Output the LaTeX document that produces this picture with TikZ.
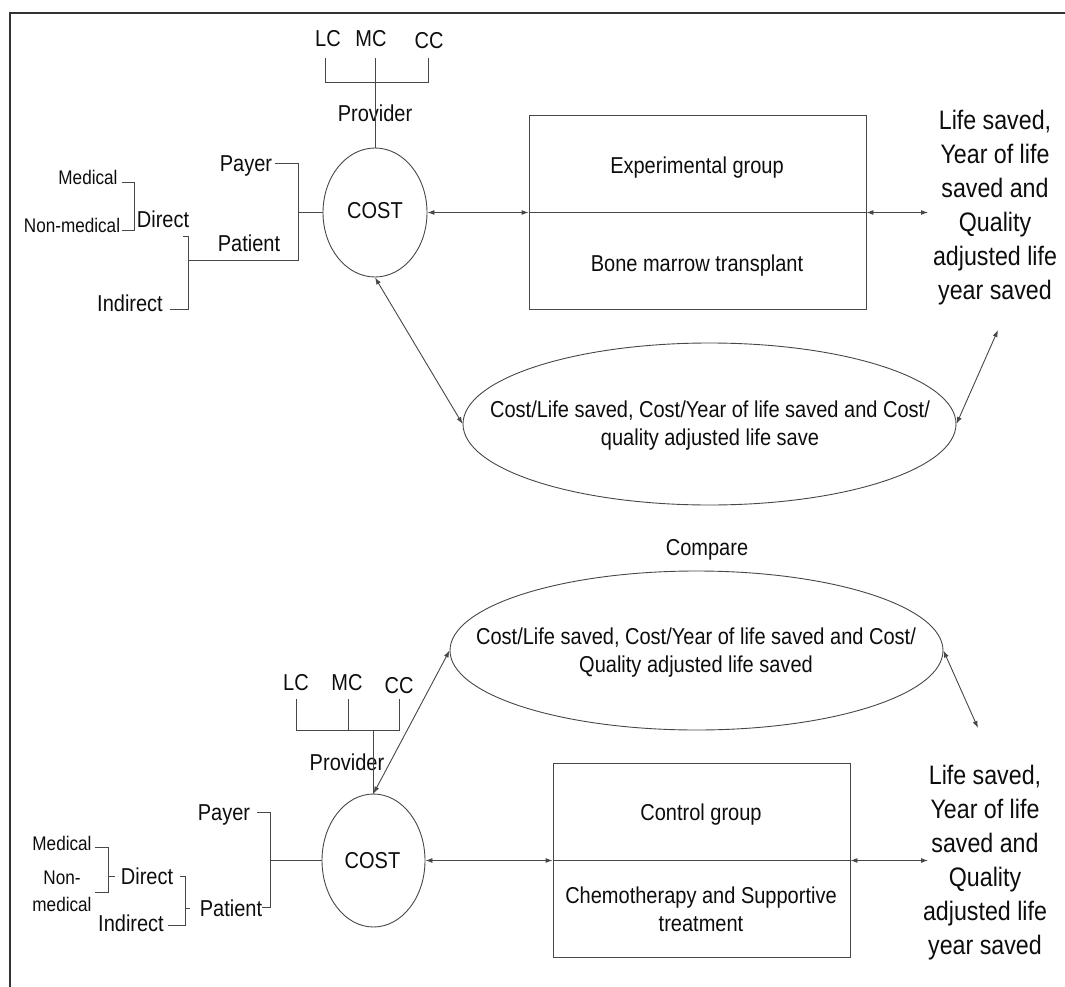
\documentclass[tikz,border=0pt]{standalone}
\usepackage{fontspec}
\setmainfont{Liberation Sans}[FakeStretch=0.87]
\usetikzlibrary{shapes.geometric,arrows.meta}
\begin{document}
\begin{tikzpicture}[x=1pt,y=-1pt,
  ln/.style={draw=black!72, line width=0.9pt},
  arr/.style={ln, {Latex[length=7pt,width=5pt]}-{Latex[length=7pt,width=5pt]}},
  lbl/.style={inner sep=0pt, text=black!95, font=\fontsize{23}{28}\selectfont, text height=16.5pt, text depth=0pt},
  sml/.style={inner sep=0pt, text=black!95, font=\fontsize{19.7}{27}\selectfont, text height=14.1pt, text depth=0pt},
  smlm/.style={inner sep=0pt, text=black!95, font=\fontsize{19.7}{27}\selectfont, align=center},
  mlt/.style={inner sep=0pt, text=black!95, font=\fontsize{23}{28}\selectfont, align=center},
  outc/.style={inner sep=0pt, text=black!95, font=\fontsize{26.7}{34}\selectfont, align=center},
  circ/.style={ln, ellipse, inner sep=0pt},
  boxx/.style={ln, rectangle, inner sep=0pt},
]
\useasboundingbox (0,0) rectangle (1065,987);
% frame
\draw[draw=black!80, line width=1.2pt] (10,987) -- (10,13) -- (1065,13);

% ================= TOP =================
\node[lbl] (lc1) at (328,38) {LC};
\node[lbl] (mc1) at (371,38) {MC};
\node[lbl] (cc1) at (429,40) {CC};
\node[lbl] (prov1) at (375,113) {Provider};
\node[circ, minimum width=104pt, minimum height=129pt] (cost1) at (375,212.5) {};
\node[lbl] at (cost1.center) [yshift=2pt] (costt1) {COST};
\node[lbl] (payer1) at (246,163) {Payer};
\node[lbl] (patient1) at (249,243) {Patient};
\node[lbl] (direct1) at (163,219) {Direct};
\node[lbl] (indirect1) at (130,303) {Indirect};
\node[sml] (medical1) at (88,177) {Medical};
\node[sml] (nonmed1) at (72,225) {Non-medical};

\draw[ln] (325,58) -- (325,82) -- (428,82) -- (428,58);
\draw[ln] (375,58) -- (cost1.north);
\draw[ln] (275,163) -- (298,163) -- (298,260) -- (188,260);
\draw[ln] (298,212.5) -- (cost1.west);
\draw[ln] (183,236) -- (188,236) -- (188,309) -- (170,309);
\draw[ln] (122,182) -- (134,182) -- (134,230) -- (122,230);

\node[boxx, minimum width=337pt, minimum height=194pt] (box1) at (697.5,212.5) {};
\node[lbl] (exp) at (697,165) {Experimental group};
\node[lbl] (bmt) at (697,263) {Bone marrow transplant};
\node[outc] (out1) at (995,208) {Life saved,\\Year of life\\saved and\\Quality\\adjusted life\\year saved};
\coordinate (o1) at (928,212.5);
\coordinate (o1b) at (998,330);

\node[circ, minimum width=493pt, minimum height=162pt] (ell1) at (709.5,424) {};
\node[mlt] (ell1t) at (710,426) {Cost/Life saved, Cost/Year of life saved and Cost/\\quality adjusted life save};

\draw[arr] (cost1.east) -- (box1.west);
\draw[ln] (box1.west) -- (box1.east);
\draw[arr] (box1.east) -- (o1);
\draw[arr] (cost1.south) -- (ell1.west);
\draw[arr] (ell1.east) -- (o1b);

% ================= BOTTOM =================
\node[lbl] (compare) at (707,547) {Compare};
\node[circ, minimum width=493pt, minimum height=159pt] (ell2) at (696.5,650.5) {};
\node[mlt] (ell2t) at (696,653) {Cost/Life saved, Cost/Year of life saved and Cost/\\Quality adjusted life saved};

\node[lbl] (lc2) at (296,682) {LC};
\node[lbl] (mc2) at (347,682) {MC};
\node[lbl] (cc2) at (399,685) {CC};
\node[lbl] (prov2) at (347,762) {Provider};
\node[circ, minimum width=103pt, minimum height=133pt] (cost2) at (373.5,860.5) {};
\node[lbl] at (cost2.center) [xshift=-1pt] (costt2) {COST};
\node[lbl] (payer2) at (224,812) {Payer};
\node[lbl] (patient2) at (231,908) {Patient};
\node[lbl] (direct2) at (147,876) {Direct};
\node[lbl] (indirect2) at (131,923) {Indirect};
\node[sml] (medical2) at (62,843) {Medical};
\node[smlm] (nonmed2) at (62,891) {Non-\\medical};

\draw[ln] (296,699) -- (296,730) -- (399,730) -- (399,699);
\draw[ln] (348,699) -- (348,730);
\draw[ln] (373.5,730) -- (cost2.north);
\draw[ln] (257,812) -- (270,812) -- (270,907) -- (262,907);
\draw[ln] (270,860.5) -- (cost2.west);
\draw[ln] (95,847) -- (108,847) -- (108,892) -- (95,892);
\draw[ln] (108,876) -- (115,876);
\draw[ln] (180,876) -- (185,876) -- (185,925) -- (168,925);
\draw[ln] (185,908) -- (190,908);

\node[boxx, minimum width=297pt, minimum height=194pt] (box2) at (701.5,860.5) {};
\node[lbl] (ctrl) at (701,812) {Control group};
\node[mlt] (chemo) at (701,909) {Chemotherapy and Supportive\\treatment};
\node[outc] (out2) at (985,863) {Life saved,\\Year of life\\saved and\\Quality\\adjusted life\\year saved};
\coordinate (o2) at (928,860.5);
\coordinate (o2b) at (978,728);

\draw[arr] (cost2.east) -- (box2.west);
\draw[ln] (box2.west) -- (box2.east);
\draw[arr] (box2.east) -- (o2);
\draw[arr] (cost2.north) -- (ell2.west);
\draw[arr] (ell2.east) -- (o2b);
\end{tikzpicture}
\end{document}
